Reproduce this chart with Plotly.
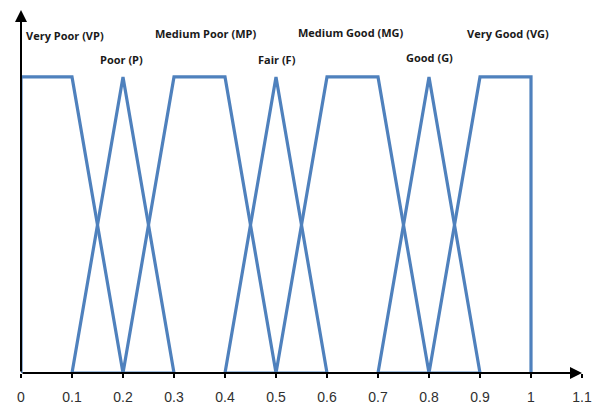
import plotly.graph_objects as go

# Membership functions (x breakpoints, membership values)
labels = ["Very Poor (VP)", "Poor (P)", "Medium Poor (MP)", "Fair (F)",
          "Medium Good (MG)", "Good (G)", "Very Good (VG)"]
vp_x = [0, 0, 0.1, 0.2]
vp_y = [0, 1, 1, 0]
p_x = [0.1, 0.2, 0.3, 0.1]
p_y = [0, 1, 0, 0]
mp_x = [0.2, 0.3, 0.4, 0.5]
mp_y = [0, 1, 1, 0]
f_x = [0.4, 0.5, 0.6, 0.4]
f_y = [0, 1, 0, 0]
mg_x = [0.5, 0.6, 0.7, 0.8]
mg_y = [0, 1, 1, 0]
g_x = [0.7, 0.8, 0.9, 0.7]
g_y = [0, 1, 0, 0]
vg_x = [0.8, 0.9, 1.0, 1.0]
vg_y = [0, 1, 1, 0]

# label anchor positions (data coords)
label_x = [0.087, 0.197, 0.362, 0.502, 0.647, 0.80, 0.955]
label_y = [1.14, 1.06, 1.145, 1.06, 1.15, 1.065, 1.145]

tick_vals = [0, 0.1, 0.2, 0.3, 0.4, 0.5, 0.6, 0.7, 0.8, 0.9, 1.0, 1.1]
tick_text = ["0", "0.1", "0.2", "0.3", "0.4", "0.5", "0.6", "0.7", "0.8", "0.9", "1", "1.1"]

BLUE = "#4F81BD"
Y_TOP = 1.226
fig = go.Figure()

# axes arrows
fig.add_annotation(x=1.1, y=0, ax=0, ay=0, xref="x", yref="y", axref="x", ayref="y",
                   showarrow=True, arrowhead=2, arrowsize=1.2, arrowwidth=2,
                   arrowcolor="black", text="")
fig.add_annotation(x=0, y=Y_TOP, ax=0, ay=0, xref="x", yref="y", axref="x", ayref="y",
                   showarrow=True, arrowhead=2, arrowsize=1.2, arrowwidth=2,
                   arrowcolor="black", text="")

for xs, ys, name in zip([vp_x, p_x, mp_x, f_x, mg_x, g_x, vg_x],
                        [vp_y, p_y, mp_y, f_y, mg_y, g_y, vg_y], labels):
    fig.add_trace(go.Scatter(x=xs, y=ys, mode="lines", name=name,
                             line=dict(color=BLUE, width=3.2), showlegend=False,
                             cliponaxis=False))

for t, lx, ly in zip(labels, label_x, label_y):
    fig.add_annotation(x=lx, y=ly, xref="x", yref="y", text="<b>" + t + "</b>",
                       showarrow=False, font=dict(family="Open Sans", size=11, color="#1a1a1a"))

fig.update_layout(
    width=597, height=399,
    margin=dict(l=13, r=23, t=2, b=34),
    plot_bgcolor="white", paper_bgcolor="white",
    xaxis=dict(range=[0, 1.1], tickvals=tick_vals, ticktext=tick_text,
               showgrid=False, zeroline=False, showline=False,
               ticks="outside", ticklen=4, tickwidth=1.5, tickcolor="black",
               ticklabelstandoff=7,
               tickfont=dict(family="Liberation Sans", size=14, color="#303030")),
    yaxis=dict(range=[0, Y_TOP], showgrid=False, zeroline=False, showline=False,
               showticklabels=False, ticks=""),
)

fig.write_html("out.html")
